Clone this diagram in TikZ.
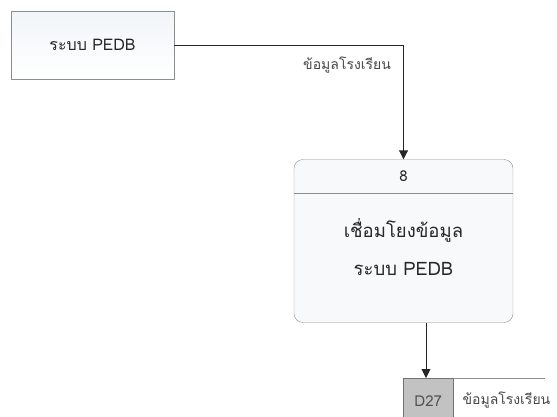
\documentclass[tikz,border=0pt]{standalone}
\usepackage{fontspec}
\setmainfont{Loma}[Script=Thai]
\usetikzlibrary{arrows.meta, positioning, calc}
\definecolor{edgegray}{HTML}{8E8E8E}
\definecolor{inkgray}{HTML}{262626}
\definecolor{paleblue}{HTML}{F1F5F9}
\definecolor{storegray}{HTML}{C2C2C2}
\tikzset{
  extbox/.style = {draw=edgegray, top color=paleblue, bottom color=white, minimum width=163pt, minimum height=68pt, font=\fontsize{16}{19}\selectfont, text=inkgray},
  procbox/.style = {draw=edgegray, rounded corners=9pt, fill=paleblue!60, minimum width=219pt, minimum height=163pt},
  storebox/.style = {draw=edgegray!80!black, fill=storegray, minimum width=50pt, minimum height=46pt, anchor=north west, font=\fontsize{15}{17}\selectfont, text=inkgray!80, inner sep=0pt},
  flow/.style = {draw=inkgray, line width=0.9pt, -{Triangle[length=9pt, width=9pt]}},
  flowlabel/.style = {font=\fontsize{14}{16}\selectfont, text=inkgray!85}
}
\begin{document}
\begin{tikzpicture}[x=1pt, y=-1pt]
  \useasboundingbox (0,0) rectangle (557,416);

  % external entity
  \node [extbox] (pedb) at (92.5,45) {ระบบ PEDB};

  % process 8
  \node [procbox] (proc) at (403.5,241) {};
  \draw [edgegray] ($(proc.north west)+(0,34)$) coordinate (hdl) -- ($(proc.north east)+(0,34)$) coordinate (hdr);
  \node [font=\fontsize{15}{17}\selectfont, text=inkgray] (procid) at ($(proc.north)+(0,17)$) {8};
  \node [font=\fontsize{18.5}{22}\selectfont, text=inkgray, align=center] (procname) at (403.5,247) {เชื่อมโยงข้อมูล\\[16pt]ระบบ PEDB};

  % data store D27
  \node [storebox] (d27) at (403,378) {D27};
  \coordinate (storeend) at (545,378);
  \draw [edgegray] (d27.north east) -- (storeend);
  \node [flowlabel, anchor=west] (storename) at (459,400) {ข้อมูลโรงเรียน};

  % flows
  \coordinate (bend) at (proc.north |- pedb.east);
  \draw [flow] (pedb.east) -- (bend) -- (proc.north);
  \node [flowlabel, anchor=east] (flow1) at ($(bend)+(-9,20)$) {ข้อมูลโรงเรียน};
  \coordinate (procout) at ($(proc.south)+(22.5,0)$);
  \draw [flow] (procout) -- (procout |- d27.north);
\end{tikzpicture}
\end{document}
